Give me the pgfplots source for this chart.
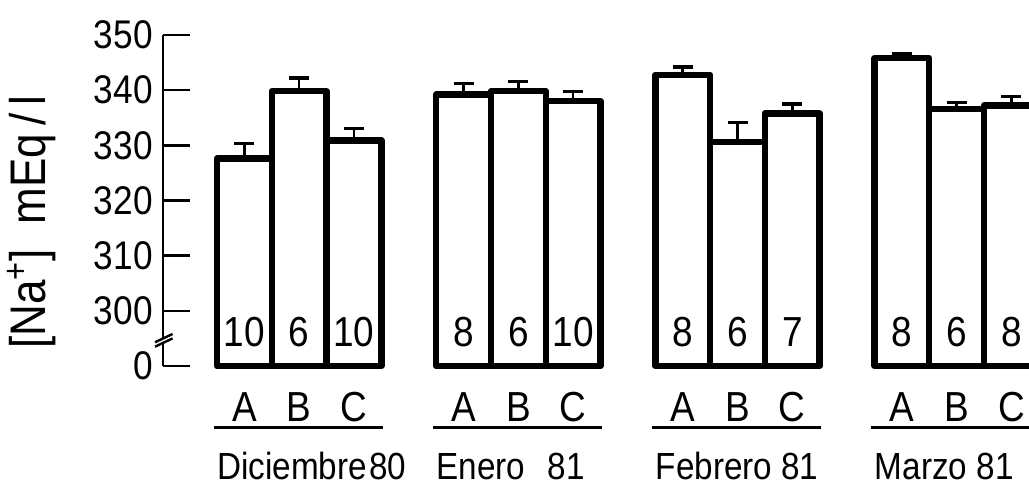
\documentclass[border=0pt]{standalone}
\usepackage{fontspec}
\setmainfont{Liberation Sans}[FakeStretch=0.88]
\usepackage{pgfplots}
\pgfplotsset{compat=1.18}
\begin{document}
\begin{tikzpicture}
\useasboundingbox (0,0) rectangle (514.5pt,242.5pt);
\begin{axis}[
  at={(81.5pt,59.5pt)}, anchor=south west,
  scale only axis, width=433pt, height=165.5pt,
  xmin=-1.485, xmax=14.32, ymin=290, ymax=350,
  clip=false,
  axis lines*=left,
  tick align=inside,
  x axis line style={draw=none},
  y axis line style={line width=1.3pt},
  xtick={0,1,2,4,5,6,8,9,10,12,13,14},
  xticklabels={A,B,C,A,B,C,A,B,C,A,B,C},
  xtick style={draw=none},
  x tick label style={font=\fontsize{21}{22}\selectfont, inner sep=0pt, anchor=north},
  xticklabel shift=13pt,
  ytick={290,300,310,320,330,340,350},
  yticklabels={\raisebox{-4pt}{0},300,310,320,330,340,350},
  ytick style={line width=1.2pt, black},
  major tick length=13.5pt,
  y tick label style={font=\fontsize{20}{21}\selectfont, inner sep=0pt},
  yticklabel shift=5pt,
]
\addplot[ybar, bar width=1, fill=white, draw=black, line width=3.2pt, line join=round,
  error bars/.cd, y dir=plus, y explicit, error mark=|,
  error mark options={line width=1.6pt, mark size=5pt, black},
  error bar style={line width=1.3pt, black}]
coordinates {
 (0,327.6) +- (0,2.7)
 (1,339.8) +- (0,2.4)
 (2,330.9) +- (0,2.2)
 (4,339.2) +- (0,2.0)
 (5,339.8) +- (0,1.7)
 (6,338.0) +- (0,1.7)
 (8,342.8) +- (0,1.4)
 (9,330.6) +- (0,3.6)
 (10,335.8) +- (0,1.7)
 (12,345.8) +- (0,0.8)
 (13,336.6) +- (0,1.2)
 (14,337.2) +- (0,1.7)
};
\addplot[draw=none, only marks, mark=none, point meta=explicit symbolic,
  nodes near coords, nodes near coords align=center,
  every node near coord/.append style={font=\fontsize{21}{22}\selectfont, anchor=center, inner sep=0pt}]
coordinates {
 (0,296.2)[10] (1,296.2)[6] (2,296.2)[10]
 (4,296.2)[8] (5,296.2)[6] (6,296.2)[10]
 (8,296.2)[8] (9,296.2)[6] (10,296.2)[7]
 (12,296.2)[8] (13,296.2)[6] (14,296.2)[8]
};
% underlines of the groups
\draw[line width=1.5pt] (axis cs:-0.555,278.76) -- (axis cs:2.53,278.76);
\draw[line width=1.5pt] (axis cs:3.445,278.76) -- (axis cs:6.53,278.76);
\draw[line width=1.5pt] (axis cs:7.445,278.76) -- (axis cs:10.53,278.76);
\draw[line width=1.5pt] (axis cs:11.445,278.76) -- (axis cs:14.6,278.76);
% month labels
\node[anchor=base west, inner sep=0pt, font=\fontsize{18.9}{20}\selectfont] at (axis cs:-0.5,269.34) {Diciembre\hspace{1pt}80};
\node[anchor=base west, inner sep=0pt, font=\fontsize{18.9}{20}\selectfont] at (axis cs:3.5,269.34) {Enero\hspace{0.6em}81};
\node[anchor=base west, inner sep=0pt, font=\fontsize{18.9}{20}\selectfont] at (axis cs:7.5,269.34) {Febrero 81};
\node[anchor=base west, inner sep=0pt, font=\fontsize{18.9}{20}\selectfont] at (axis cs:11.5,269.34) {Marzo 81};
% axis break
\fill[white] (axis cs:-1.63,293.7) -- (axis cs:-1.30,295.2) -- (axis cs:-1.30,295.9) -- (axis cs:-1.63,294.4) -- cycle;
\draw[line width=1.2pt] (axis cs:-1.63,294.3) -- (axis cs:-1.31,295.8);
\draw[line width=1.2pt] (axis cs:-1.63,293.5) -- (axis cs:-1.31,295.0);
% y label
\node[rotate=90, anchor=center, font=\fontsize{25}{26}\selectfont] at (rel axis cs:-0.152,0.435) {[Na\textsuperscript{+}]\ \ mEq\,/\,l};
\end{axis}
\end{tikzpicture}
\end{document}
